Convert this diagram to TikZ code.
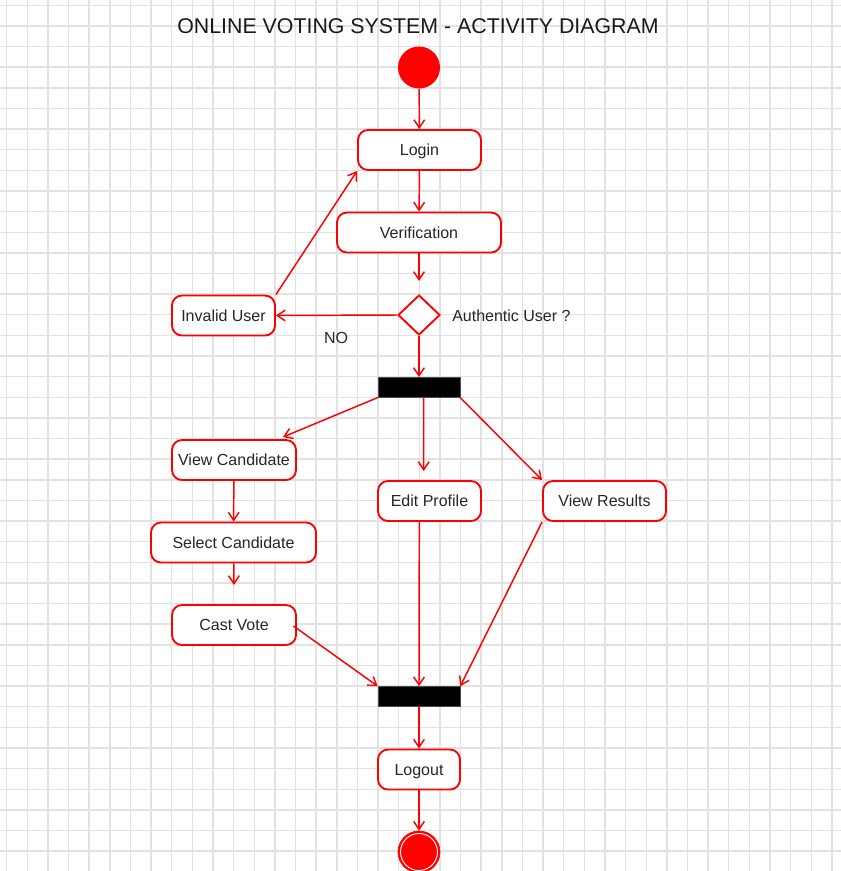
\documentclass[tikz,border=0pt]{standalone}
\usepackage{fontspec}
\setmainfont{Liberation Sans}
\usetikzlibrary{shapes.geometric,arrows.meta,calc}
\definecolor{gridc}{RGB}{226,226,226}
\definecolor{umlred}{RGB}{255,0,0}
\begin{document}
\begin{tikzpicture}[x=0.75pt,y=-0.75pt,
  act/.style={draw=umlred,line width=1.4pt,fill=white,rounded corners=7.5pt,
    minimum height=30pt,inner sep=0pt,text height=8.6pt,text depth=0pt,
    font=\fontsize{12pt}{14pt}\selectfont,text=black!85},
  bar/.style={fill=black,draw=black!70,line width=0.4pt,minimum width=61.5pt,minimum height=15pt,inner sep=0pt},
  flow/.style={draw=umlred,line width=1.1pt,-{Straight Barb[length=6pt,width=8pt,line width=1.1pt]}},
  lbl/.style={font=\fontsize{12pt}{14pt}\selectfont,text=black!85,inner sep=0pt,text height=8.6pt,text depth=0pt}]
\useasboundingbox (0,0) rectangle (841,871);
\fill[white] (0,0) rectangle (841,871);
% grid
\foreach \i in {0,...,40} {\draw[gridc,line width=1.1pt] ({6.7+20.63*\i},0) -- ({6.7+20.63*\i},871);}
\foreach \j in {0,...,41} {\draw[gridc,line width=1.1pt] (0,{5.3+20.63*\j}) -- (841,{5.3+20.63*\j});}
% title
\node[inner sep=0pt,font=\fontsize{16pt}{19pt}\selectfont,text=black!90,text height=11.5pt,text depth=0pt] (title) at (418,25.5) {ONLINE VOTING SYSTEM - ACTIVITY DIAGRAM};
% nodes
\node[circle,fill=umlred,minimum size=31.5pt,inner sep=0pt] (start) at (419,67.5) {};
\node[act,minimum width=92.25pt] (login) at (419.5,150) {Login};
\node[act,minimum width=123pt] (verif) at (419,232.5) {Verification};
\coordinate (vend) at (419,281);
\node[diamond,draw=umlred,line width=1.4pt,fill=white,minimum width=31.5pt,minimum height=30pt,inner sep=0pt] (dec) at (419,315) {};
\node[lbl,anchor=west] (auth) at (452,315.5) {Authentic User ?};
\node[act,minimum width=77.25pt] (inv) at (223.5,315.5) {Invalid User};
\node[lbl] (no) at (336,337.5) {NO};
\node[bar] (fork) at (419,387.3) {};
\node[act,minimum width=93pt] (vc) at (234,460) {View Candidate};
\node[act,minimum width=77.25pt] (ep) at (429.5,501) {Edit Profile};
\node[act,minimum width=92.25pt] (vr) at (604.5,501) {View Results};
\node[act,minimum width=123.75pt] (sc) at (233.5,542.5) {Select Candidate};
\coordinate (scend) at (234,585);
\node[act,minimum width=93pt] (cv) at (234,625) {Cast Vote};
\node[bar] (join) at (419,696.5) {};
\node[act,minimum width=61.5pt] (logout) at (419,769.5) {Logout};
\node[circle,fill=umlred,draw=umlred,line width=0.5pt,minimum size=31.5pt,inner sep=0pt] (final) at (419,852) {};
\draw[white,line width=0.7pt] (final.center) circle (18.5);
% flows
\draw[flow] (start) -- (login);
\draw[flow] (login) -- (verif);
\draw[flow] (verif) -- (vend);
\draw[flow] (dec.west) -- (inv.east);
\draw[flow] (inv.north east) -- (login.south west);
\draw[flow] (dec.south) -- (fork.north);
\draw[flow] (fork.south west) -- ($(vc.north east)+(-14,-2)$);
\draw[flow] ($(fork.south)+(4.7,0)$) -- ($(ep.north)+(-5.8,-9)$);
\draw[flow] (fork.south east) -- (vr.north west);
\draw[flow] (vc) -- (sc);
\draw[flow] (sc) -- (scend);
\draw[flow] ($(cv.east)+(-3.5,1)$) -- (join.north west);
\draw[flow] ($(ep.south)+(-10.2,0)$) -- (join.north);
\draw[flow] (vr.south west) -- (join.north east);
\draw[flow] (join) -- (logout);
\draw[flow] (logout) -- (final);
\end{tikzpicture}
\end{document}
